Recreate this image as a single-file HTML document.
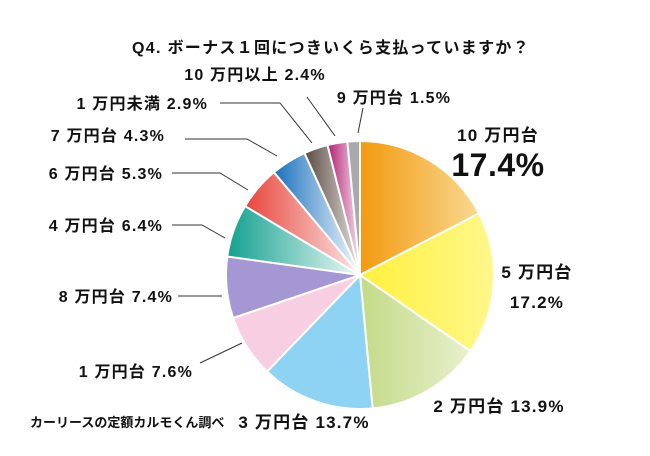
<!DOCTYPE html>
<html><head><meta charset="utf-8"><style>
html,body{margin:0;padding:0;background:#fff;}
svg{display:block;font-family:"Liberation Sans","Noto Sans CJK JP",sans-serif;}
text{font-weight:bold;fill:#111;}
</style></head><body>
<svg id="chart" width="650" height="456" viewBox="0 0 650 456">
<defs id="defs"></defs>
<text x="331" y="53" font-size="16" letter-spacing="1.3" text-anchor="middle">Q4. ボーナス１回につきいくら支払っていますか？</text>
<g id="slices"></g>
<g stroke="#333" stroke-width="1" fill="none">
<polyline points="307,97 335,136"/>
<polyline points="363,108 358,133"/>
<polyline points="220,103 280,103 312,143"/>
<polyline points="185,139 247,139 277,156"/>
<polyline points="172,173 220,173 248,190"/>
<polyline points="172,225 202,225 225,238"/>
<polyline points="178,296 222,296"/>
<polyline points="200,363 242,343"/>
</g>
<g font-size="16" letter-spacing="1.2">
<text x="498" y="141" text-anchor="middle" font-size="17">10 万円台</text>
<text x="498" y="176" text-anchor="middle" font-size="32" letter-spacing="0.5">17.4%</text>
<text x="537" y="278" text-anchor="middle" font-size="17">5 万円台</text>
<text x="537" y="308" text-anchor="middle" font-size="17">17.2%</text>
<text x="499" y="412" text-anchor="middle" font-size="17">2 万円台 13.9%</text>
<text x="304" y="428" text-anchor="middle" font-size="17">3 万円台 13.7%</text>
<text x="193" y="377" text-anchor="end">1 万円台 7.6%</text>
<text x="173" y="302" text-anchor="end">8 万円台 7.4%</text>
<text x="163" y="231" text-anchor="end">4 万円台 6.4%</text>
<text x="163" y="179" text-anchor="end">6 万円台 5.3%</text>
<text x="165" y="141" text-anchor="end">7 万円台 4.3%</text>
<text x="208" y="109" text-anchor="end">1 万円未満 2.9%</text>
<text x="255" y="80" text-anchor="middle">10 万円以上 2.4%</text>
<text x="394" y="103" text-anchor="middle">9 万円台 1.5%</text>
</g>
<text x="30" y="427" font-size="13">カーリースの定額カルモくん調べ</text>
</svg>
<script>
const categories = ["10万円台","5万円台","2万円台","3万円台","1万円台","8万円台","4万円台","6万円台","7万円台","1万円未満","10万円以上","9万円台"];
const values = [17.4,17.2,13.9,13.7,7.6,7.4,6.4,5.3,4.3,2.9,2.4,1.5];
const colorsA = ["#f39a10","#fff03c","#c3da88","#8ed3f4","#f8cfe2","#a596d4","#12a08f","#e8453b","#1a70be","#5a4942","#b21f70","#aaaaaa"];
const colorsB = ["#f9d890","#fff78c","#e8f0cc","#8ed3f4","#f8cfe2","#a596d4","#eef9f7","#fbe8e8","#f4f8fc","#e6e2de","#f6e0ee","#aaaaaa"];
const cx = 360, cy = 275, r = 134;
const NS = "http://www.w3.org/2000/svg";
const defs = document.getElementById("defs");
const g = document.getElementById("slices");
const total = values.reduce((a,b)=>a+b,0);
let ang = -Math.PI/2;
values.forEach((v,i)=>{
  const a2 = ang + v/total*2*Math.PI;
  const gr = document.createElementNS(NS,"linearGradient");
  gr.setAttribute("id","g"+i);
  gr.setAttribute("x1","0");gr.setAttribute("x2","1");gr.setAttribute("y1","0");gr.setAttribute("y2","0");
  const s1 = document.createElementNS(NS,"stop");s1.setAttribute("offset","0");s1.setAttribute("stop-color",colorsA[i]);
  const s2 = document.createElementNS(NS,"stop");s2.setAttribute("offset","1");s2.setAttribute("stop-color",colorsB[i]);
  gr.appendChild(s1);gr.appendChild(s2);defs.appendChild(gr);
  const x1 = cx + r*Math.cos(ang), y1 = cy + r*Math.sin(ang);
  const x2 = cx + r*Math.cos(a2), y2 = cy + r*Math.sin(a2);
  const large = (a2-ang) > Math.PI ? 1 : 0;
  const p = document.createElementNS(NS,"path");
  p.setAttribute("d",`M${cx},${cy} L${x1},${y1} A${r},${r} 0 ${large} 1 ${x2},${y2} Z`);
  p.setAttribute("fill","url(#g"+i+")");
  p.setAttribute("stroke","#fff");
  p.setAttribute("stroke-width","2");
  
  
  g.appendChild(p);
  ang = a2;
});
</script>
</body></html>
